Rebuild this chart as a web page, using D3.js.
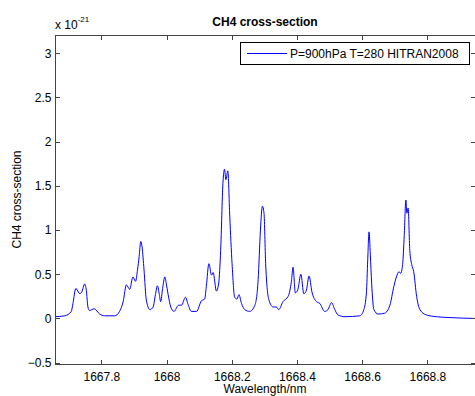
<!DOCTYPE html>
<html>
<head>
<meta charset="utf-8">
<script src="https://cdn.jsdelivr.net/npm/d3@7"></script>
<style>
  html, body { margin: 0; padding: 0; background: #fff; }
  svg text { font-family: "Liberation Sans", Arial, sans-serif; fill: #000; }
</style>
</head>
<body>
<div id="chart"></div>
<script>
// wavelength (nm) and cross-section (x 1e-21)
const wavelength = [
  1667.658, 1667.688, 1667.708, 1667.713, 1667.722, 1667.734, 1667.740, 1667.749, 1667.754, 1667.759,
  1667.764, 1667.778, 1667.795, 1667.810, 1667.841, 1667.856, 1667.867, 1667.877, 1667.887, 1667.897,
  1667.905, 1667.911, 1667.916, 1667.921, 1667.925, 1667.931, 1667.938, 1667.949, 1667.959, 1667.966,
  1667.972, 1667.978, 1667.982, 1667.988, 1667.995, 1667.999, 1668.005, 1668.013, 1668.023, 1668.037,
  1668.046, 1668.058, 1668.066, 1668.076, 1668.092, 1668.107, 1668.117, 1668.122, 1668.130, 1668.138,
  1668.143, 1668.153, 1668.160, 1668.166, 1668.173, 1668.178, 1668.182, 1668.188, 1668.194, 1668.201,
  1668.209, 1668.216, 1668.222, 1668.230, 1668.240, 1668.255, 1668.271, 1668.281, 1668.288, 1668.294,
  1668.299, 1668.304, 1668.314, 1668.327, 1668.337, 1668.344, 1668.357, 1668.373, 1668.383, 1668.388,
  1668.395, 1668.403, 1668.412, 1668.421, 1668.429, 1668.437, 1668.446, 1668.460, 1668.470, 1668.485,
  1668.495, 1668.506, 1668.516, 1668.526, 1668.547, 1668.593, 1668.605, 1668.613, 1668.617, 1668.621,
  1668.625, 1668.629, 1668.636, 1668.649, 1668.669, 1668.685, 1668.697, 1668.705, 1668.713, 1668.718,
  1668.724, 1668.729, 1668.734, 1668.737, 1668.741, 1668.746, 1668.752, 1668.758, 1668.767, 1668.777,
  1668.797, 1668.828, 1668.869, 1668.946
];
const crossSection = [
  0.02, 0.03, 0.08, 0.17, 0.34, 0.28, 0.30, 0.39, 0.32, 0.13,
  0.09, 0.11, 0.05, 0.03, 0.03, 0.08, 0.19, 0.38, 0.33, 0.47,
  0.42, 0.55, 0.70, 0.87, 0.81, 0.55, 0.21, 0.10, 0.13, 0.27,
  0.37, 0.27, 0.19, 0.34, 0.47, 0.40, 0.27, 0.13, 0.08, 0.15,
  0.15, 0.24, 0.16, 0.08, 0.08, 0.20, 0.22, 0.36, 0.62, 0.49,
  0.52, 0.31, 0.40, 0.77, 1.53, 1.69, 1.57, 1.67, 1.15, 0.62,
  0.24, 0.22, 0.27, 0.17, 0.10, 0.08, 0.15, 0.44, 1.00, 1.27,
  1.19, 0.62, 0.21, 0.13, 0.13, 0.10, 0.19, 0.25, 0.42, 0.58,
  0.29, 0.33, 0.50, 0.28, 0.32, 0.48, 0.30, 0.19, 0.17, 0.08,
  0.10, 0.18, 0.10, 0.04, 0.02, 0.03, 0.10, 0.29, 0.66, 0.98,
  0.72, 0.40, 0.10, 0.05, 0.06, 0.15, 0.36, 0.47, 0.53, 0.51,
  0.61, 0.94, 1.34, 1.19, 1.25, 0.77, 0.61, 0.53, 0.25, 0.10,
  0.04, 0.02, 0.01, 0.00
];
const xTicks = [1667.8, 1668, 1668.2, 1668.4, 1668.6, 1668.8];
const yTicks = [-0.5, 0, 0.5, 1, 1.5, 2, 2.5, 3];
const seriesName = 'P=900hPa T=280 HITRAN2008';

const width = 475, height = 396;
const plotL = 55, plotR = 475, plotT = 35, plotB = 364;
const tickLen = 4;
const axisColor = '#444';

const x = d3.scaleLinear().domain([1667.658, 1668.946]).range([plotL, plotR]);
const y = d3.scaleLinear().domain([-0.515, 3.207]).range([plotB, plotT]);

const svg = d3.select('#chart').append('svg')
  .attr('width', width)
  .attr('height', height);

// data line
const data = wavelength.map((w, i) => ({ w, v: crossSection[i] }));
const line = d3.line().curve(d3.curveMonotoneX).x(d => x(d.w)).y(d => y(d.v));

svg.append('defs').append('clipPath').attr('id', 'clip')
  .append('rect').attr('x', plotL).attr('y', plotT).attr('width', plotR - plotL).attr('height', plotB - plotT);

svg.append('path')
  .datum(data)
  .attr('clip-path', 'url(#clip)')
  .attr('d', line)
  .attr('fill', 'none')
  .attr('stroke', '#0000ff')
  .attr('stroke-width', 1);

// tick labels through d3 axes, MATLAB-style box and inward ticks drawn after
const bottomAxis = d3.axisBottom(x).tickValues(xTicks).tickSize(0).tickFormat(d3.format(''));
const gx = svg.append('g').attr('transform', `translate(0,${plotB + 0.5})`).call(bottomAxis);
gx.select('.domain').remove();
gx.selectAll('.tick text').attr('dy', null).attr('y', 16).style('font-size', '12px');

const leftAxis = d3.axisLeft(y).tickValues(yTicks).tickSize(0).tickFormat(d3.format(''));
const gy = svg.append('g').attr('transform', `translate(${plotL + 0.5},0)`).call(leftAxis);
gy.select('.domain').remove();
gy.selectAll('.tick text').attr('x', -4).style('font-size', '12px');

const frame = svg.append('g').attr('stroke', axisColor).attr('stroke-width', 1);
frame.append('line').attr('x1', plotL + 0.5).attr('x2', plotL + 0.5).attr('y1', plotT).attr('y2', plotB + 1);
frame.append('line').attr('x1', plotL).attr('x2', plotR).attr('y1', plotB + 0.5).attr('y2', plotB + 0.5);
frame.append('line').attr('x1', plotL).attr('x2', plotR).attr('y1', plotT + 0.5).attr('y2', plotT + 0.5);

xTicks.forEach(t => {
  const px = Math.round(x(t)) + 0.5;
  frame.append('line').attr('x1', px).attr('x2', px).attr('y1', plotB).attr('y2', plotB - tickLen);
  frame.append('line').attr('x1', px).attr('x2', px).attr('y1', plotT + 1).attr('y2', plotT + 1 + tickLen);
});
yTicks.forEach(t => {
  const py = Math.round(y(t)) + 0.5;
  frame.append('line').attr('x1', plotL + 1).attr('x2', plotL + 1 + tickLen).attr('y1', py).attr('y2', py);
  frame.append('line').attr('x1', plotR - tickLen).attr('x2', plotR).attr('y1', py).attr('y2', py);
});

// exponent label
const expo = svg.append('text').attr('x', plotL).attr('y', 29).style('font-size', '12px');
expo.append('tspan').text('x 10');
expo.append('tspan').attr('dy', -7).style('font-size', '8px').text('-21');

// title and axis labels
svg.append('text')
  .attr('x', (plotL + plotR) / 2).attr('y', 26)
  .attr('text-anchor', 'middle')
  .style('font-size', '12px').style('font-weight', 'bold')
  .text('CH4 cross-section');

svg.append('text')
  .attr('x', (plotL + plotR) / 2).attr('y', 393)
  .attr('text-anchor', 'middle')
  .style('font-size', '12px')
  .text('Wavelength/nm');

svg.append('text')
  .attr('transform', `translate(21,${(plotT + plotB) / 2}) rotate(-90)`)
  .attr('text-anchor', 'middle')
  .style('font-size', '12px')
  .text('CH4 cross-section');

// legend
const legend = svg.append('g');
legend.append('rect')
  .attr('x', 240.5).attr('y', 42.5).attr('width', 229).attr('height', 22)
  .attr('fill', '#fff').attr('stroke', '#000').attr('stroke-width', 1);
legend.append('line')
  .attr('x1', 247).attr('x2', 287).attr('y1', 53.5).attr('y2', 53.5)
  .attr('stroke', '#0000ff').attr('stroke-width', 1);
legend.append('text')
  .attr('x', 290).attr('y', 58)
  .style('font-size', '12px')
  .text(seriesName);
</script>
</body>
</html>
